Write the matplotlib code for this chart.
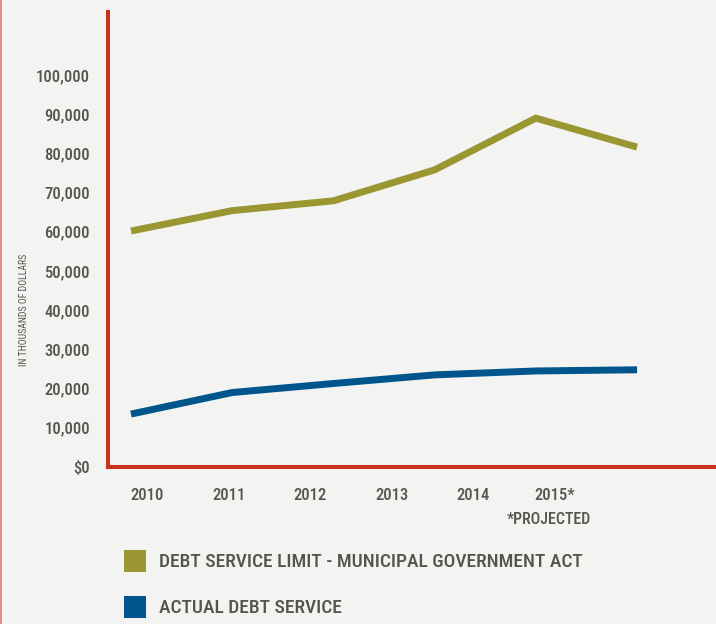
import matplotlib
matplotlib.use("Agg")
import matplotlib.pyplot as plt
from matplotlib.font_manager import fontManager
from matplotlib.patches import Rectangle
from matplotlib.lines import Line2D

years = ["2010", "2011", "2012", "2013", "2014", "2015*"]
limit_vals = [60200, 65400, 67900, 75800, 89000, 81600]
actual_vals = [13500, 19000, 21300, 23500, 24500, 24800]
ytick_vals = [0, 10000, 20000, 30000, 40000, 50000, 60000, 70000, 80000, 90000, 100000]
ytick_labels = ["$0", "10,000", "20,000", "30,000", "40,000", "50,000",
                "60,000", "70,000", "80,000", "90,000", "100,000"]
series_names = ["DEBT SERVICE LIMIT - MUNICIPAL GOVERNMENT ACT", "ACTUAL DEBT SERVICE"]

names = {f.name for f in fontManager.ttflist}
fam = [f for f in ["Liberation Sans Narrow", "Roboto Condensed", "Open Sans Condensed", "Roboto", "Liberation Sans"] if f in names]
fam = fam + ["DejaVu Sans"]
plt.rcParams['font.family'] = fam

BG = "#f3f3f1"
RED = "#c8321e"
OLIVE = "#9a9632"
BLUE = "#00558c"
TXT = "#55554f"

fig = plt.figure(figsize=(7.16, 6.24), dpi=100, facecolor=BG)
ax = fig.add_axes([108/716, 157/624, 608/716, 455/624])
ax.set_facecolor(BG)

x = list(range(len(years)))
ax.plot(x, limit_vals, color=OLIVE, lw=5, solid_capstyle='butt', solid_joinstyle='miter')
ax.plot(x, actual_vals, color=BLUE, lw=5, solid_capstyle='butt', solid_joinstyle='miter')

ax.set_xlim(-0.227, 5.78)
ax.set_ylim(0, 116070)

ax.set_yticks(ytick_vals)
ax.set_yticklabels(ytick_labels, color=TXT, fontsize=12, fontweight='medium')
ax.set_xticks([0.16 + 0.805 * i for i in range(len(years))])
ax.set_xticklabels(years, color=TXT, fontsize=12, fontweight='medium')
ax.tick_params(axis='both', length=0)
ax.tick_params(axis='y', pad=13)
ax.tick_params(axis='x', pad=15)

for s in ["top", "right"]:
    ax.spines[s].set_visible(False)
for s in ["left", "bottom"]:
    ax.spines[s].set_color(RED)
    ax.spines[s].set_linewidth(2.9)

ax.text(4.13, -0.115, "*PROJECTED", transform=ax.get_xaxis_transform(),
        ha='center', va='center', color=TXT, fontsize=11.5, fontweight='medium')

fig.text(24/716, 1 - 310/624, "IN THOUSANDS OF DOLLARS", rotation=90,
         ha='center', va='center', color=TXT, fontsize=7)

# left border line
fig.add_artist(Line2D([0.7/716, 0.7/716], [0, 1], color="#f07575", lw=1.2, transform=fig.transFigure))

# legend
colors = [OLIVE, BLUE]
ys = [561, 607]
for name, c, yc in zip(series_names, colors, ys):
    fig.add_artist(Rectangle((124/716, 1 - (yc + 11)/624), 22/716, 22/624,
                             transform=fig.transFigure, color=c, lw=0))
    fig.text(159/716, 1 - (yc + 1)/624, name, ha='left', va='center', color=TXT,
             fontsize=14, fontweight='medium')

fig.savefig("out.png", dpi=100, facecolor=BG)
